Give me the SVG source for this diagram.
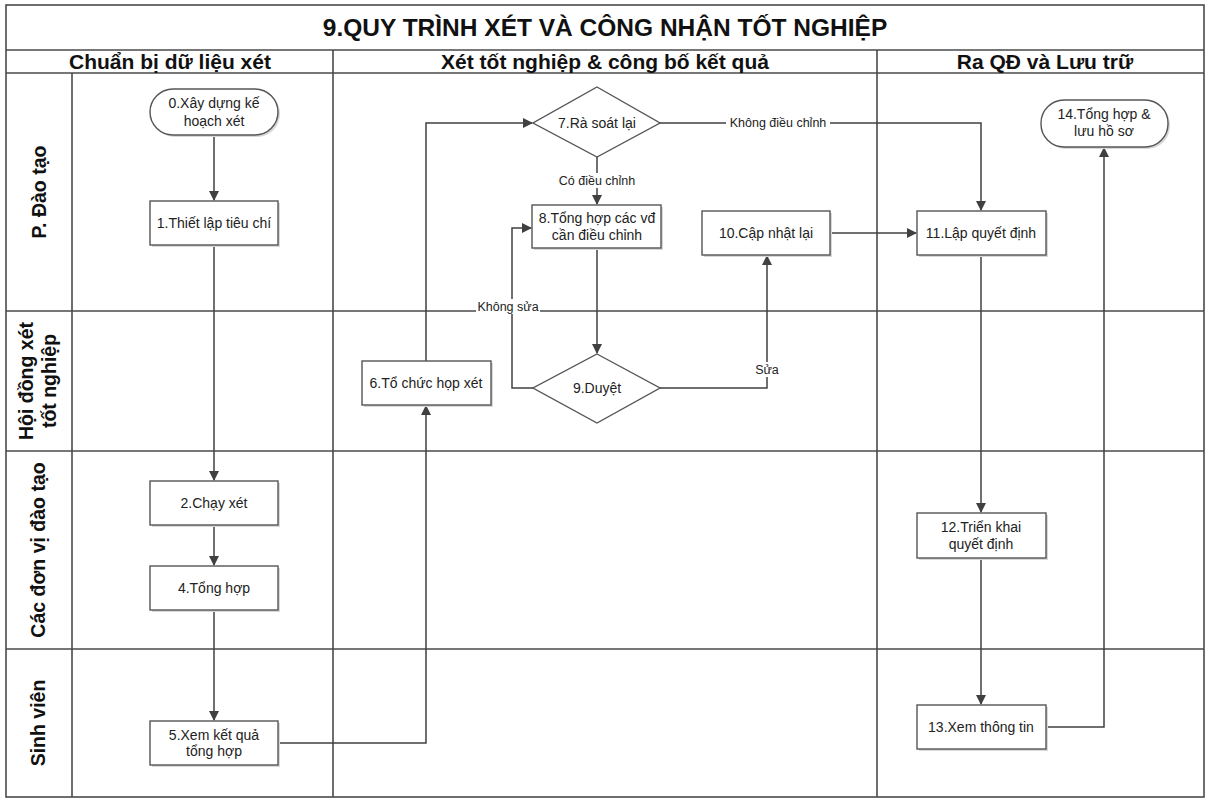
<svg xmlns="http://www.w3.org/2000/svg" width="1206" height="799" viewBox="0 0 1206 799">
<style>
.grid{fill:none;stroke:#4a4a4a;stroke-width:1.6}
.box{fill:#fff;stroke:#555;stroke-width:1.4}
.sh{fill:#d8d8d8;stroke:none}
.conn{fill:none;stroke:#404040;stroke-width:1.5}
.t{font-family:"Liberation Sans",Arial,sans-serif;font-size:14px;fill:#222;text-anchor:middle}
.lbl{font-family:"Liberation Sans",Arial,sans-serif;font-size:12.5px;fill:#222;text-anchor:middle}
.title{font-family:"Liberation Sans",Arial,sans-serif;font-size:24.5px;font-weight:bold;fill:#111;text-anchor:middle}
.ph{font-family:"Liberation Sans",Arial,sans-serif;font-size:21px;font-weight:bold;fill:#111;text-anchor:middle}
.lane{font-family:"Liberation Sans",Arial,sans-serif;font-size:19.5px;font-weight:bold;fill:#111;text-anchor:middle}
</style>
<defs>
<marker id="arr" markerWidth="10" markerHeight="10" refX="9" refY="5" orient="auto" markerUnits="userSpaceOnUse">
<path d="M0,0 L10,5 L0,10 Z" fill="#404040"/>
</marker>
</defs>
<rect width="1206" height="799" fill="#fff"/>
<g id="frame">
<rect class="grid" x="6" y="5" width="1198" height="792"/>
<line class="grid" x1="6" y1="50" x2="1204" y2="50"/>
<line class="grid" x1="6" y1="73" x2="1204" y2="73"/>
<line class="grid" x1="333" y1="50" x2="333" y2="797"/>
<line class="grid" x1="877" y1="50" x2="877" y2="797"/>
<line class="grid" x1="72" y1="73" x2="72" y2="797"/>
<line class="grid" x1="6" y1="311" x2="1204" y2="311"/>
<line class="grid" x1="6" y1="451" x2="1204" y2="451"/>
<line class="grid" x1="6" y1="649" x2="1204" y2="649"/>
<text class="title" x="605" y="36">9.QUY TRÌNH XÉT VÀ CÔNG NHẬN TỐT NGHIỆP</text>
<text class="ph" x="170" y="69">Chuẩn bị dữ liệu xét</text>
<text class="ph" x="605" y="69">Xét tốt nghiệp &amp; công bố kết quả</text>
<text class="ph" x="1045" y="69">Ra QĐ và Lưu trữ</text>
<text class="lane" transform="translate(46,192) rotate(-90)">P. Đào tạo</text>
<text class="lane" transform="translate(33,381) rotate(-90)">Hội đồng xét</text>
<text class="lane" transform="translate(56,381) rotate(-90)">tốt nghiệp</text>
<text class="lane" transform="translate(45,550) rotate(-90)">Các đơn vị đào tạo</text>
<text class="lane" transform="translate(45,723) rotate(-90)">Sinh viên</text>
</g>
<g id="connectors">
<line class="conn" x1="214" y1="135" x2="214" y2="200" marker-end="url(#arr)"/>
<line class="conn" x1="214" y1="245" x2="214" y2="480" marker-end="url(#arr)"/>
<line class="conn" x1="214" y1="525" x2="214" y2="565" marker-end="url(#arr)"/>
<line class="conn" x1="214" y1="610" x2="214" y2="720" marker-end="url(#arr)"/>
<polyline class="conn" points="278,743 426,743 426,406" marker-end="url(#arr)"/>
<polyline class="conn" points="426,361 426,123 532,123" marker-end="url(#arr)"/>
<line class="conn" x1="597" y1="157" x2="597" y2="204" marker-end="url(#arr)"/>
<line class="conn" x1="597" y1="249" x2="597" y2="353" marker-end="url(#arr)"/>
<polyline class="conn" points="533,388 512,388 512,228 531,228" marker-end="url(#arr)"/>
<polyline class="conn" points="660,388 767,388 767,256" marker-end="url(#arr)"/>
<line class="conn" x1="831" y1="233" x2="916" y2="233" marker-end="url(#arr)"/>
<polyline class="conn" points="660,123 981,123 981,210" marker-end="url(#arr)"/>
<line class="conn" x1="981" y1="255" x2="981" y2="512" marker-end="url(#arr)"/>
<line class="conn" x1="981" y1="558" x2="981" y2="704" marker-end="url(#arr)"/>
<polyline class="conn" points="1046,727 1104,727 1104,148" marker-end="url(#arr)"/>
<rect x="555" y="173" width="84" height="15" fill="#fff"/>
<text class="lbl" x="597" y="185">Có điều chỉnh</text>
<rect x="476" y="299" width="64" height="15" fill="#fff"/>
<text class="lbl" x="508" y="311">Không sửa</text>
<rect x="753" y="362" width="28" height="15" fill="#fff"/>
<text class="lbl" x="767" y="374">Sửa</text>
<rect x="726" y="115" width="104" height="15" fill="#fff"/>
<text class="lbl" x="778" y="127">Không điều chỉnh</text>
</g>
<g id="n0">
<rect class="sh" x="152" y="91" width="128" height="46" rx="23"/>
<rect class="box" x="150" y="89" width="128" height="46" rx="23"/>
<text class="t" x="214" y="108">0.Xây dựng kế</text>
<text class="t" x="214" y="126">hoạch xét</text>
</g>
<g id="n1">
<rect class="sh" x="152" y="203" width="128" height="44"/>
<rect class="box" x="150" y="201" width="128" height="44"/>
<text class="t" x="214" y="228">1.Thiết lập tiêu chí</text>
</g>
<g id="n2">
<rect class="sh" x="152" y="483" width="128" height="44"/>
<rect class="box" x="150" y="481" width="128" height="44"/>
<text class="t" x="214" y="508">2.Chạy xét</text>
</g>
<g id="n4">
<rect class="sh" x="152" y="568" width="128" height="44"/>
<rect class="box" x="150" y="566" width="128" height="44"/>
<text class="t" x="214" y="593">4.Tổng hợp</text>
</g>
<g id="n5">
<rect class="sh" x="152" y="723" width="128" height="44"/>
<rect class="box" x="150" y="721" width="128" height="44"/>
<text class="t" x="214" y="740">5.Xem kết quả</text>
<text class="t" x="214" y="756">tổng hợp</text>
</g>
<g id="n6">
<rect class="sh" x="364" y="363" width="129" height="44"/>
<rect class="box" x="362" y="361" width="129" height="44"/>
<text class="t" x="426" y="388">6.Tổ chức họp xét</text>
</g>
<g id="n7">
<polygon class="box" points="597,87 660,123 597,157 533,123"/>
<text class="t" x="597" y="128">7.Rà soát lại</text>
</g>
<g id="n8">
<rect class="sh" x="534" y="207" width="129" height="43"/>
<rect class="box" x="532" y="205" width="129" height="43"/>
<text class="t" x="597" y="223">8.Tổng hợp các vđ</text>
<text class="t" x="597" y="240">cần điều chỉnh</text>
</g>
<g id="n9">
<polygon class="box" points="597,354 660,388 597,423 533,388"/>
<text class="t" x="597" y="393">9.Duyệt</text>
</g>
<g id="n10">
<rect class="sh" x="704" y="213" width="128" height="44"/>
<rect class="box" x="702" y="211" width="128" height="44"/>
<text class="t" x="766" y="238">10.Cập nhật lại</text>
</g>
<g id="n11">
<rect class="sh" x="919" y="213" width="129" height="44"/>
<rect class="box" x="917" y="211" width="129" height="44"/>
<text class="t" x="981" y="238">11.Lập quyết định</text>
</g>
<g id="n12">
<rect class="sh" x="919" y="515" width="129" height="45"/>
<rect class="box" x="917" y="513" width="129" height="45"/>
<text class="t" x="981" y="532">12.Triển khai</text>
<text class="t" x="981" y="549">quyết định</text>
</g>
<g id="n13">
<rect class="sh" x="919" y="707" width="129" height="44"/>
<rect class="box" x="917" y="705" width="129" height="44"/>
<text class="t" x="981" y="732">13.Xem thông tin</text>
</g>
<g id="n14">
<rect class="sh" x="1043" y="102" width="127" height="47" rx="23"/>
<rect class="box" x="1041" y="100" width="127" height="47" rx="23"/>
<text class="t" x="1104" y="119">14.Tổng hợp &amp;</text>
<text class="t" x="1104" y="136">lưu hồ sơ</text>
</g>
</svg>
